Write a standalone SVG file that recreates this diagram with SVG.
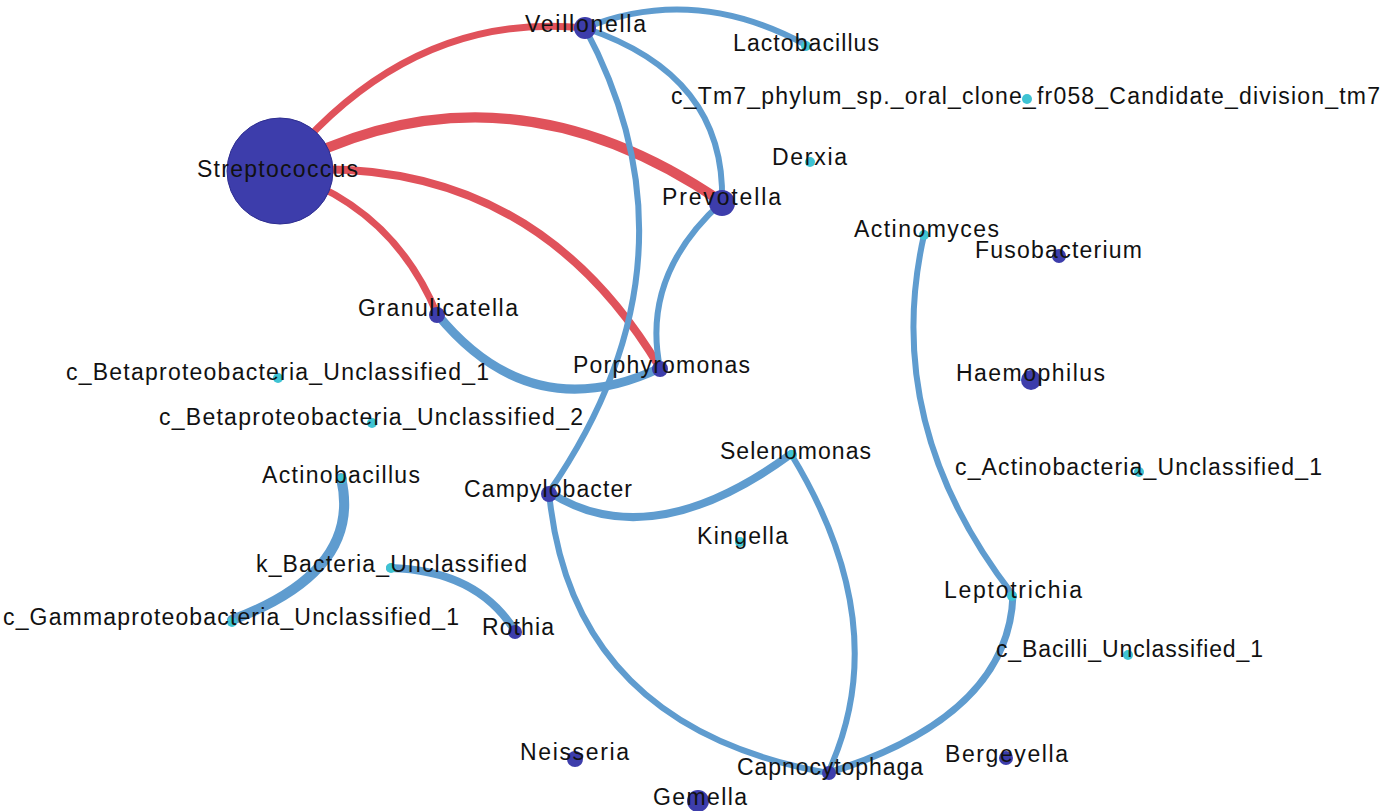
<svg xmlns="http://www.w3.org/2000/svg" width="1383" height="811" viewBox="0 0 1383 811">
<style>
.e{fill:none;stroke-linecap:round}
.r{stroke:#e0525b}
.b{stroke:#5f9ccf}
.d{fill:#3d3dab}
.c{fill:#3fc3d3}
text{font-family:"Liberation Sans",Arial,sans-serif;font-size:23px;fill:#111;lengthAdjust:spacingAndGlyphs}
</style>
<rect width="1383" height="811" fill="#fff"/>
<g id="edges">
<path class="e r" stroke-width="7" d="M279 171 Q408 10 585 28"/>
<path class="e r" stroke-width="10" d="M279 171 Q500 50 722 202"/>
<path class="e r" stroke-width="8" d="M279 171 Q530 150 660 368"/>
<path class="e r" stroke-width="7" d="M279 171 Q392 205 437 314"/>
<path class="e b" stroke-width="6" d="M585 28 Q694 -16 806 45"/>
<path class="e b" stroke-width="6" d="M585 28 Q726 75 722 202"/>
<path class="e b" stroke-width="6" d="M585 28 Q709 260 549 492"/>
<path class="e b" stroke-width="6" d="M722 202 Q641 275 660 368"/>
<path class="e b" stroke-width="9" d="M437 314 Q531 429 660 368"/>
<path class="e b" stroke-width="8" d="M549 492 Q650 557 791 454"/>
<path class="e b" stroke-width="6" d="M549 492 Q571 727 828 773"/>
<path class="e b" stroke-width="6" d="M791 454 Q896 626 828 773"/>
<path class="e b" stroke-width="7" d="M828 773 Q1009 716 1013 595"/>
<path class="e b" stroke-width="6" d="M924 235 Q881 425 1013 595"/>
<path class="e b" stroke-width="10" d="M341 478 Q363 571 232 620"/>
<path class="e b" stroke-width="8" d="M390 568 Q477 570 515 631"/>
</g>
<g id="n-streptococcus"><circle cx="280" cy="171" r="53" class="d" stroke="#2d2d90" stroke-width="1"/><text x="197" y="177" textLength="161">Streptococcus</text></g>
<g id="n-veillonella"><circle cx="585" cy="28" r="11" class="d"/><text x="525" y="32" textLength="121">Veillonella</text></g>
<g id="n-lactobacillus"><circle cx="806" cy="46" r="5" class="c"/><text x="733" y="51" textLength="146">Lactobacillus</text></g>
<g id="n-tm7"><circle cx="1027" cy="99" r="5" class="c"/><text x="671" y="104" textLength="709">c_Tm7_phylum_sp._oral_clone_fr058_Candidate_division_tm7</text></g>
<g id="n-derxia"><circle cx="810" cy="162" r="5" class="c"/><text x="772" y="165" textLength="75">Derxia</text></g>
<g id="n-prevotella"><circle cx="722" cy="203" r="13" class="d"/><text x="662" y="205" textLength="119">Prevotella</text></g>
<g id="n-actinomyces"><circle cx="924" cy="235" r="5" class="c"/><text x="854" y="237" textLength="145">Actinomyces</text></g>
<g id="n-fusobacterium"><circle cx="1059" cy="256" r="7" class="d"/><text x="975" y="258" textLength="167">Fusobacterium</text></g>
<g id="n-granulicatella"><circle cx="437" cy="315" r="8" class="d"/><text x="358" y="316" textLength="160">Granulicatella</text></g>
<g id="n-porphyromonas"><circle cx="660" cy="369" r="8" class="d"/><text x="573" y="373" textLength="177">Porphyromonas</text></g>
<g id="n-beta1"><circle cx="278" cy="378" r="5" class="c"/><text x="66" y="380" textLength="423">c_Betaproteobacteria_Unclassified_1</text></g>
<g id="n-beta2"><circle cx="372" cy="423" r="5" class="c"/><text x="159" y="425" textLength="424">c_Betaproteobacteria_Unclassified_2</text></g>
<g id="n-haemophilus"><circle cx="1031" cy="380" r="10" class="d"/><text x="956" y="381" textLength="149">Haemophilus</text></g>
<g id="n-actinobacillus"><circle cx="342" cy="479" r="5" class="c"/><text x="262" y="483" textLength="158">Actinobacillus</text></g>
<g id="n-campylobacter"><circle cx="549" cy="494" r="8" class="d"/><text x="464" y="497" textLength="168">Campylobacter</text></g>
<g id="n-selenomonas"><circle cx="792" cy="455" r="5" class="c"/><text x="720" y="459" textLength="151">Selenomonas</text></g>
<g id="n-actino1"><circle cx="1139" cy="472" r="5" class="c"/><text x="955" y="475" textLength="367">c_Actinobacteria_Unclassified_1</text></g>
<g id="n-kingella"><circle cx="740" cy="542" r="5" class="c"/><text x="697" y="544" textLength="91">Kingella</text></g>
<g id="n-kbacteria"><circle cx="391" cy="568" r="5" class="c"/><text x="256" y="572" textLength="271">k_Bacteria_Unclassified</text></g>
<g id="n-leptotrichia"><circle cx="1012" cy="596" r="5" class="c"/><text x="944" y="598" textLength="138">Leptotrichia</text></g>
<g id="n-gamma1"><circle cx="232" cy="622" r="5" class="c"/><text x="3" y="625" textLength="456">c_Gammaproteobacteria_Unclassified_1</text></g>
<g id="n-rothia"><circle cx="515" cy="632" r="7" class="d"/><text x="482" y="635" textLength="72">Rothia</text></g>
<g id="n-bacilli1"><circle cx="1128" cy="655" r="5" class="c"/><text x="996" y="657" textLength="267">c_Bacilli_Unclassified_1</text></g>
<g id="n-neisseria"><circle cx="575" cy="759" r="8" class="d"/><text x="520" y="760" textLength="109">Neisseria</text></g>
<g id="n-capnocytophaga"><circle cx="829" cy="773" r="7" class="d"/><text x="737" y="775" textLength="186">Capnocytophaga</text></g>
<g id="n-bergeyella"><circle cx="1006" cy="758" r="7" class="d"/><text x="945" y="762" textLength="123">Bergeyella</text></g>
<g id="n-gemella"><circle cx="698" cy="801" r="11" class="d"/><text x="653" y="805" textLength="94">Gemella</text></g>
</svg>
